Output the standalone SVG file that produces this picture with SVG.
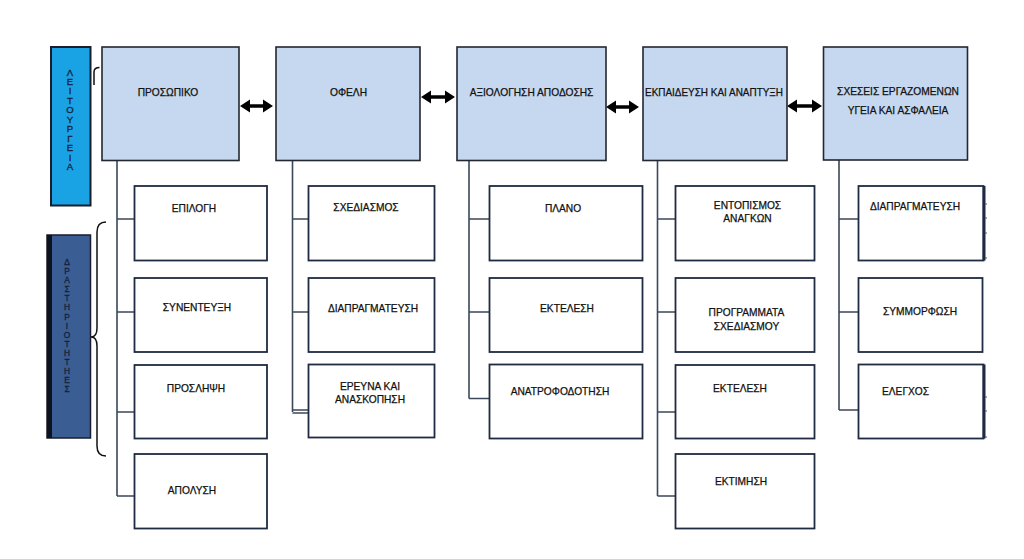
<svg xmlns="http://www.w3.org/2000/svg" width="1024" height="559" viewBox="0 0 1024 559">
<style>
.top{fill:#c6d8ef;stroke:#23272f;stroke-width:1.6}
.child{fill:#ffffff;stroke:#1f2b42;stroke-width:1.8}
.conn{fill:none;stroke:#3c475a;stroke-width:1.6}
.arr{fill:#000000}
.t{font-family:"Liberation Sans",Arial,sans-serif;font-size:10.2px;fill:#111111;stroke:#111111;stroke-width:0.25;text-anchor:middle}
.v{font-family:"Liberation Sans",Arial,sans-serif;fill:#16203a;stroke:#16203a;stroke-width:0.3;text-anchor:middle}
</style>
<rect width="1024" height="559" fill="#ffffff"/>

<g id="side-leitourgeia">
<rect x="51" y="47" width="39.5" height="158.5" fill="#19a3e5" stroke="#1b1d2a" stroke-width="2"/>
<text class="v" font-size="9.6" x="70"><tspan x="70" y="75.5">Λ</tspan><tspan x="70" y="85">Ε</tspan><tspan x="70" y="94.4">Ι</tspan><tspan x="70" y="103.8">Τ</tspan><tspan x="70" y="113.3">Ο</tspan><tspan x="70" y="122.7">Υ</tspan><tspan x="70" y="132.2">Ρ</tspan><tspan x="70" y="141.6">Γ</tspan><tspan x="70" y="151.1">Ε</tspan><tspan x="70" y="160.5">Ι</tspan><tspan x="70" y="170">Α</tspan></text>
<path d="M94 85 L94 72 Q94 67.5 99.5 67.5" fill="none" stroke="#111" stroke-width="1.5"/>
</g>

<g id="side-drastiriotites">
<rect x="47" y="235" width="43.5" height="203" fill="#3a5d93" stroke="#1b1d2a" stroke-width="1.5"/>
<rect x="47" y="235" width="5" height="203" fill="#0d1220"/>
<text class="v" font-size="8.4" x="67"><tspan x="67" y="265.3">Δ</tspan><tspan x="67" y="274.3">Ρ</tspan><tspan x="67" y="283.4">Α</tspan><tspan x="67" y="292.4">Σ</tspan><tspan x="67" y="301.4">Τ</tspan><tspan x="67" y="310.4">Η</tspan><tspan x="67" y="319.5">Ρ</tspan><tspan x="67" y="328.5">Ι</tspan><tspan x="67" y="337.5">Ο</tspan><tspan x="67" y="346.6">Τ</tspan><tspan x="67" y="355.6">Η</tspan><tspan x="67" y="364.6">Τ</tspan><tspan x="67" y="373.6">Η</tspan><tspan x="67" y="382.7">Ε</tspan><tspan x="67" y="391.7">Σ</tspan></text>
<path d="M106 222 Q97 222 97 232 L97 328 Q97 337 91 337 Q97 337 97 346 L97 446 Q97 456 106 456" fill="none" stroke="#111" stroke-width="1.5"/>
</g>

<g id="connectors">
<path class="conn" d="M117 160 V496 M117 219 H134 M117 312 H134 M117 412 H134 M117 496 H134"/>
<path class="conn" d="M292.5 160 V412 M292.5 219 H308 M292.5 312 H308 M292.5 410 H308 M292.5 413 H308"/>
<path class="conn" d="M469 160 V398.5 M469 219 H489 M469 312 H489 M469 398.5 H489"/>
<path class="conn" d="M657.5 160 V496 M657.5 219 H675 M657.5 312 H675 M657.5 412 H675 M657.5 496 H675"/>
<path class="conn" d="M839 160 V410 M839 219 H858 M839 312 H858 M839 410 H858"/>
<polygon class="arr" points="240,106 250,99.5 250,104.3 263,104.3 263,99.5 273,106 263,112.5 263,107.7 250,107.7 250,112.5"/>
<polygon class="arr" points="421,97 431,90.5 431,95.3 445,95.3 445,90.5 455,97 445,103.5 445,98.7 431,98.7 431,103.5"/>
<polygon class="arr" points="606,107 616,100.5 616,105.3 629,105.3 629,100.5 639,107 629,113.5 629,108.7 616,108.7 616,113.5"/>
<polygon class="arr" points="787,106 797,99.5 797,104.3 812,104.3 812,99.5 822,106 812,112.5 812,107.7 797,107.7 797,112.5"/>
</g>

<g id="prosopiko"><rect class="top" x="102" y="47" width="137" height="113.5"/><text class="t" x="168" y="96.3">ΠΡΟΣΩΠΙΚΟ</text></g>
<g id="ofeli"><rect class="top" x="276" y="47" width="144" height="113.5"/><text class="t" x="348.5" y="96.3">ΟΦΕΛΗ</text></g>
<g id="axiologisi"><rect class="top" x="457" y="47" width="149" height="113.5"/><text class="t" x="531.5" y="96.3">ΑΞΙΟΛΟΓΗΣΗ ΑΠΟΔΟΣΗΣ</text></g>
<g id="ekpaideusi"><rect class="top" x="643" y="47" width="144" height="113.5"/><text class="t" x="714" y="96.3" textLength="138" lengthAdjust="spacingAndGlyphs">ΕΚΠΑΙΔΕΥΣΗ ΚΑΙ ΑΝΑΠΤΥΞΗ</text></g>
<g id="sxeseis"><rect class="top" x="823.5" y="47" width="144" height="113"/><text class="t" x="898"><tspan x="898" y="95.3">ΣΧΕΣΕΙΣ ΕΡΓΑΖΟΜΕΝΩΝ</tspan><tspan x="898" y="113.8">ΥΓΕΙΑ ΚΑΙ ΑΣΦΑΛΕΙΑ</tspan></text></g>

<g id="epilogi"><rect class="child" x="134.5" y="186" width="132.5" height="74.5"/><text class="t" x="194" y="211.8">ΕΠΙΛΟΓΗ</text></g>
<g id="synenteuxi"><rect class="child" x="134.5" y="278" width="132.5" height="74"/><text class="t" x="197" y="310.8">ΣΥΝΕΝΤΕΥΞΗ</text></g>
<g id="proslipsi"><rect class="child" x="134.5" y="365" width="132.5" height="73.5"/><text class="t" x="196" y="391.8">ΠΡΟΣΛΗΨΗ</text></g>
<g id="apolysi"><rect class="child" x="134.5" y="454" width="132.5" height="74.5"/><text class="t" x="192" y="493.8">ΑΠΟΛΥΣΗ</text></g>

<g id="sxediasmos"><rect class="child" x="308.5" y="186" width="126" height="74.5"/><text class="t" x="366" y="211.3">ΣΧΕΔΙΑΣΜΟΣ</text></g>
<g id="diapragmateusi1"><rect class="child" x="308.5" y="278" width="126" height="74"/><text class="t" x="373" y="311.8">ΔΙΑΠΡΑΓΜΑΤΕΥΣΗ</text></g>
<g id="erevna"><rect class="child" x="308.5" y="364.5" width="126" height="73"/><text class="t" x="370"><tspan x="370" y="389.8">ΕΡΕΥΝΑ ΚΑΙ</tspan><tspan x="370" y="403.3">ΑΝΑΣΚΟΠΗΣΗ</tspan></text></g>

<g id="plano"><rect class="child" x="489.5" y="186" width="153" height="74.5"/><text class="t" x="563" y="211.8">ΠΛΑΝΟ</text></g>
<g id="ektelesi1"><rect class="child" x="489.5" y="278" width="153" height="74"/><text class="t" x="567" y="311.8">ΕΚΤΕΛΕΣΗ</text></g>
<g id="anatrofodotisi"><rect class="child" x="489.5" y="364.5" width="153" height="74"/><text class="t" x="560" y="395.3">ΑΝΑΤΡΟΦΟΔΟΤΗΣΗ</text></g>

<g id="entopismos"><rect class="child" x="675.5" y="186" width="139" height="74.5"/><text class="t" x="747.5"><tspan x="747.5" y="208.8">ΕΝΤΟΠΙΣΜΟΣ</tspan><tspan x="747.5" y="222.3">ΑΝΑΓΚΩΝ</tspan></text></g>
<g id="programmata"><rect class="child" x="675.5" y="278" width="139" height="74"/><text class="t" x="746.5"><tspan x="746.5" y="316.3">ΠΡΟΓΡΑΜΜΑΤΑ</tspan><tspan x="746.5" y="330.3">ΣΧΕΔΙΑΣΜΟΥ</tspan></text></g>
<g id="ektelesi2"><rect class="child" x="675.5" y="365" width="139" height="73.5"/><text class="t" x="740" y="391.8">ΕΚΤΕΛΕΣΗ</text></g>
<g id="ektimisi"><rect class="child" x="675.5" y="454" width="139" height="74.5"/><text class="t" x="741" y="485.3">ΕΚΤΙΜΗΣΗ</text></g>

<g id="diapragmateusi2"><rect class="child" x="858.5" y="186" width="125" height="74.5"/><line x1="984" y1="186" x2="984" y2="260.5" stroke="#1f2b42" stroke-width="3"/><path d="M985 204H987M985 218H987M985 233H987M985 258H987" stroke="#556" stroke-width="1"/><text class="t" x="915" y="210.3">ΔΙΑΠΡΑΓΜΑΤΕΥΣΗ</text></g>
<g id="symmorfosi"><rect class="child" x="858.5" y="278" width="124" height="74"/><text class="t" x="920" y="314.8">ΣΥΜΜΟΡΦΩΣΗ</text></g>
<g id="elegxos"><rect class="child" x="858.5" y="364.5" width="125" height="74"/><line x1="984" y1="364.5" x2="984" y2="438.5" stroke="#1f2b42" stroke-width="3"/><path d="M985 397H987M985 411H987M985 437H987" stroke="#556" stroke-width="1"/><text class="t" x="905.5" y="395.3">ΕΛΕΓΧΟΣ</text></g>
</svg>
